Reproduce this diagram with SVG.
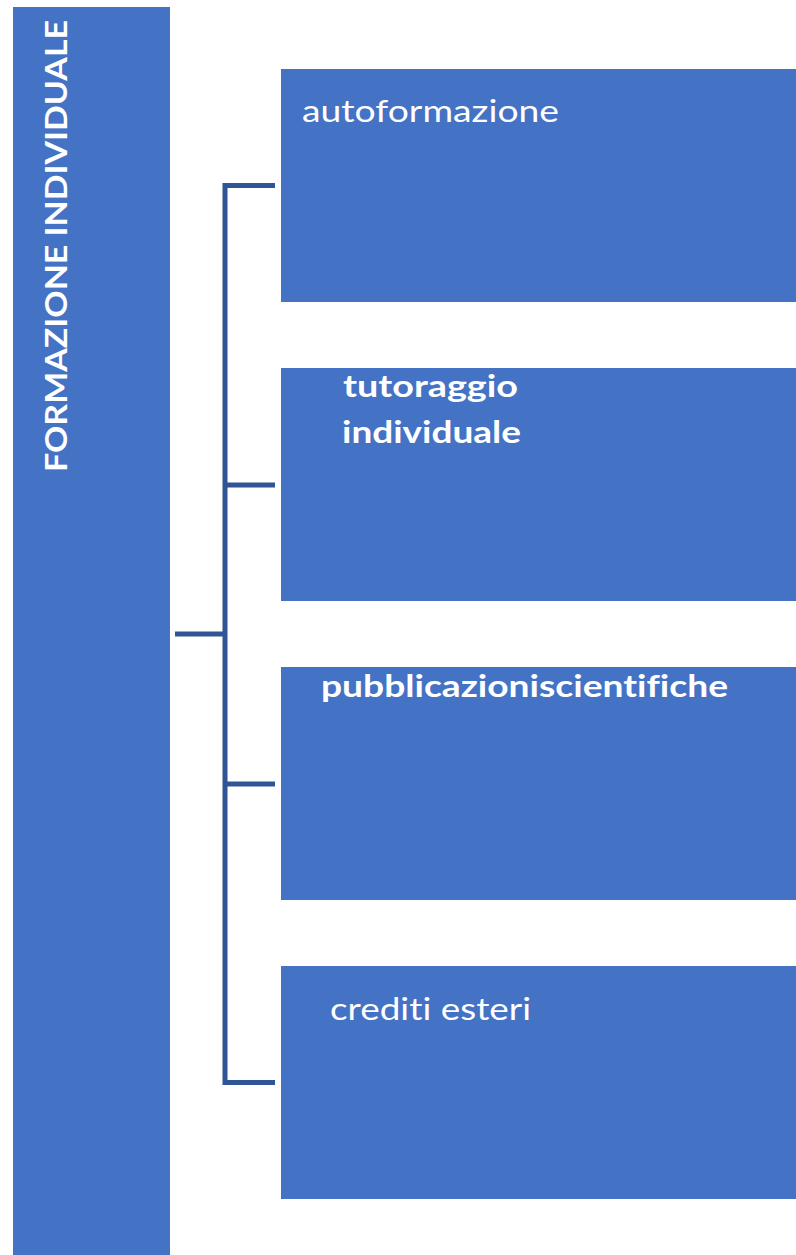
<svg xmlns="http://www.w3.org/2000/svg" width="796" height="1255" viewBox="0 0 796 1255">
<style>
.box{fill:#4472C4;}
.lbl{fill:#FFFFFF;font-family:Lato,"Open Sans","Liberation Sans",sans-serif;font-size:30px;font-variant-ligatures:none;}
.b{font-weight:bold;}
.conn{fill:none;stroke:#2F5597;stroke-width:5;stroke-linecap:butt;stroke-linejoin:miter;}
</style>
<rect width="796" height="1255" fill="#FFFFFF"/>
<g id="root">
<rect class="box" x="13" y="7" width="157" height="1248"/>
<text class="lbl b" transform="translate(67,472) rotate(-90)" x="0" y="0" textLength="452" lengthAdjust="spacingAndGlyphs">FORMAZIONE INDIVIDUALE</text>
</g>
<g id="connectors">
<line class="conn" x1="175" y1="634" x2="225" y2="634"/>
<path class="conn" d="M275,185.5 H225 V1082.5 H275"/>
<line class="conn" x1="225" y1="485" x2="275" y2="485"/>
<line class="conn" x1="225" y1="784" x2="275" y2="784"/>
</g>
<g id="n1">
<rect class="box" x="281" y="69" width="515" height="233"/>
<text class="lbl" x="302" y="122" textLength="257" lengthAdjust="spacingAndGlyphs">autoformazione</text>
</g>
<g id="n2">
<rect class="box" x="281" y="368" width="515" height="233"/>
<text class="lbl b" x="343" y="397" textLength="175" lengthAdjust="spacingAndGlyphs">tutoraggio</text>
<text class="lbl b" x="342" y="443" textLength="179" lengthAdjust="spacingAndGlyphs">individuale</text>
</g>
<g id="n3">
<rect class="box" x="281" y="667" width="515" height="233"/>
<text class="lbl b" x="321" y="697" textLength="407" lengthAdjust="spacingAndGlyphs">pubblicazioniscientifiche</text>
</g>
<g id="n4">
<rect class="box" x="281" y="966" width="515" height="233"/>
<text class="lbl" x="330" y="1020" textLength="201" lengthAdjust="spacingAndGlyphs">crediti esteri</text>
</g>
</svg>
